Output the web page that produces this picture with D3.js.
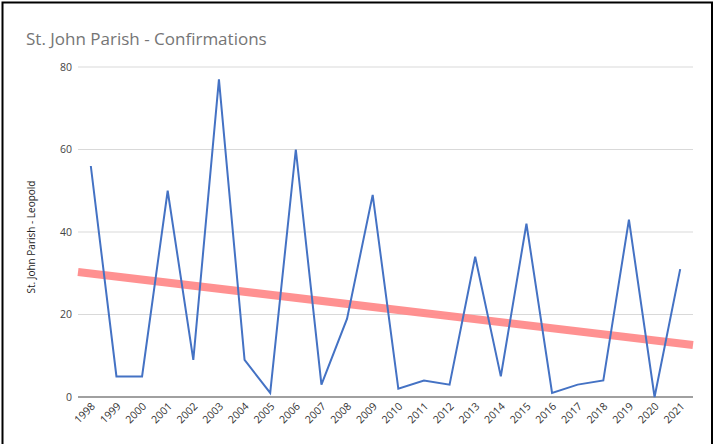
<!DOCTYPE html>
<html><head><meta charset="utf-8">
<script src="https://cdn.jsdelivr.net/npm/d3@7"></script>
<style>html,body{margin:0;padding:0;background:#fff;}svg{display:block;}</style>
</head><body>
<script>
const years = ["1998","1999","2000","2001","2002","2003","2004","2005","2006","2007","2008","2009","2010","2011","2012","2013","2014","2015","2016","2017","2018","2019","2020","2021"];
const confirmations = [56,5,5,50,9,77,9,1,60,3,19,49,2,4,3,34,5,42,1,3,4,43,0,31];
const yTicks = [0,20,40,60,80];
const titleText = "St. John Parish - Confirmations";
const yTitle = "St. John Parish - Leopold";

(function () {
const W = 714, H = 444;
const svg = d3.select("body").append("svg").attr("width", W).attr("height", H);
svg.append("rect").attr("width", W).attr("height", H).attr("fill", "#fff");
svg.append("rect").attr("x", 2.5).attr("y", 2.5).attr("width", 709.5).attr("height", 450)
  .attr("fill", "none").attr("stroke", "#000").attr("stroke-width", 2);

const pLeft = 78, pRight = 693, pTop = 67, pBottom = 397;
const x = d3.scaleBand().domain(years).range([pLeft, pRight]);
const y = d3.scaleLinear().domain([0, 80]).range([pBottom, pTop]);

svg.append("text").attr("x", 26).attr("y", 45).text(titleText)
  .attr("font-family", "Open Sans, sans-serif").attr("font-size", 17).attr("fill", "#757575");

// grid
svg.append("g").selectAll("line").data(yTicks.filter(d => d > 0)).join("line")
  .attr("x1", pLeft).attr("x2", pRight).attr("y1", d => y(d)).attr("y2", d => y(d))
  .attr("stroke", "#d9d9d9").attr("stroke-width", 1);

const yAxis = svg.append("g").attr("transform", `translate(${pLeft},0)`)
  .call(d3.axisLeft(y).tickValues(yTicks).tickSize(0).tickPadding(6));
yAxis.select(".domain").remove();
yAxis.selectAll("text").attr("font-family", "Open Sans, sans-serif").attr("font-size", 10.5).attr("fill", "#444");

svg.append("text").attr("transform", `translate(35,${(pTop + pBottom) / 2 + 5}) rotate(-90)`)
  .attr("text-anchor", "middle").text(yTitle)
  .attr("font-family", "Open Sans, sans-serif").attr("font-size", 10).attr("fill", "#222");

// trendline (least squares)
const n = confirmations.length;
const idx = d3.range(n);
const mx = d3.mean(idx), my = d3.mean(confirmations);
const slope = d3.sum(idx, i => (i - mx) * (confirmations[i] - my)) / d3.sum(idx, i => (i - mx) ** 2);
const icpt = my - slope * mx;
const step = x.step();
const xi = i => x(years[0]) + x.bandwidth() / 2 + i * step;
svg.append("line")
  .attr("x1", xi(-0.5)).attr("y1", y(icpt + slope * -0.5))
  .attr("x2", xi(n - 0.5)).attr("y2", y(icpt + slope * (n - 0.5)))
  .attr("stroke", "#ff8585").attr("stroke-width", 8).attr("stroke-opacity", 0.9);

// baseline
svg.append("line").attr("x1", pLeft).attr("x2", pRight).attr("y1", y(0)).attr("y2", y(0))
  .attr("stroke", "#808080").attr("stroke-width", 1.5);

// data line
const line = d3.line().x((d, i) => x(years[i]) + x.bandwidth() / 2).y(d => y(d));
svg.append("path").datum(confirmations).attr("d", line)
  .attr("fill", "none").attr("stroke", "#4472c4").attr("stroke-width", 2).attr("stroke-linejoin", "miter");

// x labels
const xAxis = svg.append("g").attr("transform", `translate(0,${pBottom})`)
  .call(d3.axisBottom(x).tickSize(0).tickPadding(0));
xAxis.select(".domain").remove();
xAxis.selectAll("text")
  .attr("font-family", "Open Sans, sans-serif").attr("font-size", 10.5).attr("fill", "#333")
  .attr("text-anchor", "end").attr("dy", 0)
  .attr("transform", "translate(5,10) rotate(-45)");
})();
</script>
</body></html>
